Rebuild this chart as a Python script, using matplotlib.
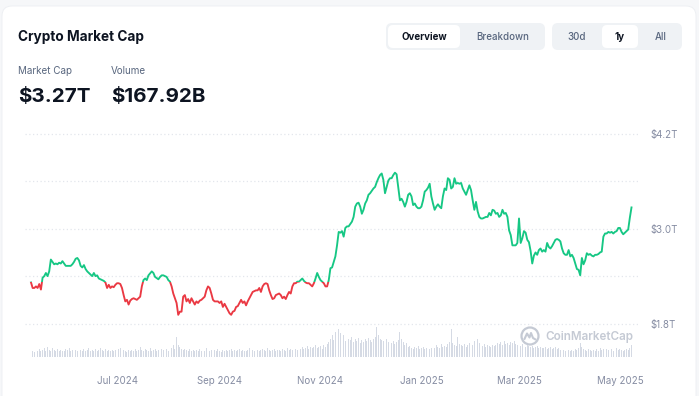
import matplotlib
matplotlib.use("Agg")
import matplotlib.pyplot as plt
import matplotlib.dates as mdates
from matplotlib.patches import FancyBboxPatch, Rectangle, Circle
import numpy as np
import pandas as pd

plt.rcParams['font.family'] = ['Inter', 'DejaVu Sans']

# ---------------- data ----------------
start_date = "2024-05-10"

day_offsets = [
    0, 1, 2, 3, 4, 5, 6, 7, 8, 9, 10, 11, 12, 13, 14, 15, 16, 17, 18, 19,
    20, 21, 22, 23, 24, 25, 26, 27, 28, 29, 30, 31, 32, 33, 34, 35, 36, 37, 38, 39,
    40, 41, 42, 43, 44, 45, 46, 47, 48, 49, 50, 51, 52, 53, 54, 55, 56, 57, 58, 59,
    60, 61, 62, 64, 66, 67, 68, 69, 70, 71, 73, 74, 75, 77, 78, 79, 80, 82, 83, 84,
    85, 86, 88, 89, 90, 91, 92, 93, 94, 95, 96, 97, 98, 99, 100, 101, 102, 103, 104, 105,
    106, 107, 108, 109, 110, 111, 113, 114, 115, 116, 117, 118, 119, 120, 121, 122, 123, 124, 125, 126,
    127, 128, 129, 130, 131, 132, 133, 134, 135, 136, 137, 138, 139, 140, 141, 142, 143, 144, 145, 146,
    147, 148, 149, 150, 151, 152, 153, 154, 155, 156, 157, 158, 159, 160, 161, 162, 163, 164, 165, 166,
    167, 168, 169, 170, 171, 172, 173, 174, 175, 176, 177, 178, 179, 180, 181, 182, 183, 184, 185, 186,
    187, 188, 189, 190, 191, 192, 193, 194, 195, 196, 197, 198, 199, 200, 201, 202, 203, 204, 205, 206,
    207, 208, 209, 210, 211, 212, 213, 214, 215, 216, 217, 218, 219, 220, 221, 222, 223, 224, 225, 226,
    227, 228, 229, 230, 231, 232, 233, 234, 235, 236, 237, 238, 239, 240, 241, 242, 243, 244, 245, 246,
    247, 248, 249, 250, 251, 252, 253, 254, 255, 256, 257, 258, 259, 260, 261, 262, 263, 264, 265, 266,
    267, 268, 269, 270, 271, 272, 273, 274, 275, 276, 277, 278, 279, 280, 281, 282, 283, 284, 285, 286,
    287, 288, 289, 290, 291, 292, 293, 294, 295, 296, 297, 298, 299, 300, 301, 302, 303, 304, 305, 306,
    307, 308, 309, 310, 311, 312, 313, 314, 315, 316, 317, 318, 319, 320, 321, 322, 323, 324, 325, 326,
    327, 328, 329, 330, 331, 332, 333, 334, 335, 336, 337, 338, 339, 340, 341, 342, 343, 344, 345, 346,
    347, 348, 349, 350, 351, 352, 353, 354, 355, 356, 357, 358, 359, 360, 361, 362, 363,
]

market_cap_t = [
    2.32, 2.25, 2.25, 2.27, 2.25, 2.30, 2.23, 2.38, 2.40, 2.44, 2.40, 2.46, 2.61, 2.58, 2.55, 2.56, 2.55, 2.57, 2.56, 2.59,
    2.56, 2.53, 2.53, 2.53, 2.53, 2.55, 2.58, 2.62, 2.63, 2.60, 2.53, 2.51, 2.54, 2.49, 2.46, 2.44, 2.42, 2.40, 2.44, 2.40,
    2.41, 2.37, 2.36, 2.35, 2.34, 2.32, 2.25, 2.29, 2.25, 2.27, 2.26, 2.29, 2.31, 2.31, 2.30, 2.25, 2.16, 2.08, 2.10, 2.04,
    2.09, 2.11, 2.12, 2.10, 2.14, 2.27, 2.35, 2.37, 2.35, 2.41, 2.46, 2.44, 2.39, 2.36, 2.39, 2.41, 2.41, 2.39, 2.35, 2.33,
    2.27, 2.18, 2.06, 1.91, 1.95, 1.95, 2.14, 2.16, 2.08, 2.11, 2.06, 2.12, 2.08, 2.04, 2.08, 2.06, 2.09, 2.10, 2.12, 2.14,
    2.22, 2.27, 2.25, 2.18, 2.10, 2.08, 2.08, 2.06, 2.08, 2.01, 2.05, 2.01, 1.97, 1.93, 1.91, 1.95, 1.96, 2.01, 2.02, 2.06,
    2.10, 2.06, 2.08, 2.03, 2.08, 2.12, 2.16, 2.20, 2.21, 2.22, 2.22, 2.25, 2.20, 2.27, 2.30, 2.31, 2.30, 2.22, 2.16, 2.11,
    2.12, 2.16, 2.17, 2.18, 2.16, 2.12, 2.14, 2.11, 2.16, 2.20, 2.18, 2.27, 2.31, 2.31, 2.33, 2.33, 2.35, 2.37, 2.34, 2.32,
    2.31, 2.31, 2.29, 2.27, 2.31, 2.37, 2.44, 2.39, 2.35, 2.33, 2.31, 2.27, 2.27, 2.35, 2.50, 2.51, 2.58, 2.65, 2.79, 2.96,
    2.95, 2.97, 2.90, 3.01, 3.03, 3.03, 3.06, 3.09, 3.15, 3.28, 3.32, 3.33, 3.28, 3.19, 3.24, 3.32, 3.36, 3.43, 3.45, 3.48,
    3.51, 3.53, 3.59, 3.64, 3.68, 3.70, 3.62, 3.45, 3.53, 3.61, 3.64, 3.64, 3.68, 3.71, 3.69, 3.53, 3.36, 3.38, 3.34, 3.28,
    3.34, 3.43, 3.45, 3.41, 3.30, 3.32, 3.28, 3.26, 3.26, 3.28, 3.36, 3.47, 3.49, 3.52, 3.57, 3.41, 3.32, 3.24, 3.28, 3.31,
    3.28, 3.26, 3.41, 3.51, 3.49, 3.64, 3.62, 3.51, 3.53, 3.64, 3.57, 3.58, 3.57, 3.58, 3.51, 3.47, 3.43, 3.49, 3.55, 3.49,
    3.36, 3.24, 3.34, 3.22, 3.15, 3.13, 3.13, 3.14, 3.15, 3.15, 3.20, 3.17, 3.24, 3.23, 3.19, 3.20, 3.15, 3.17, 3.24, 3.19,
    3.20, 3.15, 2.98, 2.92, 2.79, 2.79, 2.79, 2.82, 3.13, 2.82, 2.88, 2.97, 2.95, 2.86, 2.83, 2.72, 2.56, 2.66, 2.70, 2.67,
    2.73, 2.75, 2.71, 2.73, 2.71, 2.82, 2.77, 2.75, 2.78, 2.82, 2.86, 2.87, 2.86, 2.84, 2.75, 2.69, 2.67, 2.67, 2.73, 2.65,
    2.67, 2.63, 2.56, 2.49, 2.48, 2.41, 2.63, 2.55, 2.60, 2.69, 2.67, 2.68, 2.66, 2.65, 2.67, 2.67, 2.68, 2.70, 2.71, 2.90,
    2.94, 2.94, 2.96, 2.95, 2.96, 2.94, 2.96, 2.97, 3.01, 3.01, 2.96, 2.93, 2.95, 2.97, 2.99, 3.14, 3.27,
]

# daily volume in billions USD (one value per day from start_date)
volume_b = [
    50, 60, 50, 70, 60, 80, 60, 70, 90, 60,
    100, 70, 60, 90, 70, 60, 80, 60, 70, 60,
    60, 80, 70, 90, 60, 70, 100, 70, 60, 80,
    70, 60, 80, 60, 70, 90, 60, 70, 60, 80,
    60, 70, 90, 70, 60, 80, 60, 70, 60, 70,
    60, 70, 60, 80, 90, 60, 70, 60, 50, 70,
    60, 70, 60, 80, 60, 70, 100, 70, 60, 80,
    70, 60, 90, 60, 70, 80, 60, 70, 60, 80,
    70, 60, 80, 60, 70, 90, 120, 80, 200, 120,
    100, 80, 70, 80, 70, 60, 80, 60, 70, 60,
    70, 60, 80, 60, 70, 60, 90, 70, 60, 70,
    60, 70, 60, 80, 60, 50, 70, 60, 70, 60,
    70, 80, 60, 70, 60, 70, 80, 60, 70, 60,
    60, 70, 90, 60, 70, 60, 80, 70, 60, 70,
    80, 70, 60, 90, 70, 60, 70, 80, 60, 70,
    70, 60, 80, 70, 60, 90, 70, 80, 70, 90,
    80, 70, 90, 80, 100, 80, 90, 110, 80, 100,
    90, 100, 120, 90, 100, 110, 80, 120, 100, 130,
    150, 180, 220, 170, 250, 200, 280, 240, 180, 220,
    160, 190, 180, 170, 200, 150, 180, 160, 190, 140,
    170, 150, 180, 160, 190, 170, 150, 180, 200, 300,
    220, 180, 170, 160, 260, 180, 150, 170, 140, 160,
    130, 150, 170, 250, 180, 150, 120, 140, 100, 110,
    90, 80, 100, 90, 110, 80, 90, 100, 80, 90,
    100, 80, 90, 110, 90, 120, 100, 90, 130, 100,
    110, 100, 130, 150, 280, 140, 120, 110, 200, 130,
    120, 110, 130, 100, 120, 140, 110, 120, 160, 290,
    180, 140, 120, 110, 130, 100, 120, 110, 100, 120,
    110, 120, 140, 130, 150, 120, 160, 130, 140, 120,
    150, 140, 160, 130, 120, 140, 110, 130, 120, 100,
    120, 110, 100, 110, 90, 100, 110, 90, 100, 90,
    90, 100, 80, 90, 100, 80, 90, 100, 80, 90,
    70, 60, 70, 60, 80, 70, 60, 70, 60, 80,
    70, 90, 140, 100, 80, 70, 60, 80, 70, 60,
    70, 60, 80, 60, 90, 70, 80, 70, 80, 70,
    70, 80, 60, 70, 90, 70, 80, 70, 60, 70,
    80, 70, 90, 120,
]

y_label_levels = [1.8, 3.0, 4.2]
y_grid_levels = [1.8, 2.4, 3.0, 3.6, 4.2]
x_tick_dates = ["2024-07-01", "2024-09-01", "2024-11-01", "2025-01-01", "2025-03-01", "2025-05-01"]

title = "Crypto Market Cap"
stat_labels = ["Market Cap", "Volume"]
stat_values = ["$3.27T", "$167.92B"]

# ---------------- styling ----------------
GREEN = "#16c784"
RED = "#ea3943"
GRAY_TXT = "#858ca2"
DARK = "#0d1421"
SUB = "#58667e"

W, H = 699, 396
fig = plt.figure(figsize=(W / 100, H / 100), dpi=100)
fig.patch.set_facecolor("#f6f7f9")

# background / header axes in pixel coordinates
bg = fig.add_axes([0, 0, 1, 1], zorder=0)
bg.set_xlim(0, W)
bg.set_ylim(H, 0)
bg.axis("off")
bg.add_patch(FancyBboxPatch((2, 6), W - 5, H + 20, boxstyle="round,pad=0,rounding_size=10",
                            fc="white", ec="#eceef2", lw=0.6))

bg.text(18, 37, title, fontsize=9.8, fontweight="bold", color=DARK, va="center", ha="left")
bg.text(18, 71, stat_labels[0], fontsize=7.1, color=SUB, va="center", ha="left")
bg.text(111, 71, stat_labels[1], fontsize=7.1, color=SUB, va="center", ha="left")
bg.text(18, 97, stat_values[0], fontsize=14.8, fontweight="bold", color=DARK, va="center", ha="left")
bg.text(111, 97, stat_values[1], fontsize=14.8, fontweight="bold", color=DARK, va="center", ha="left")

BTN_BG = "#eff2f5"
bg.add_patch(FancyBboxPatch((386, 23), 159, 27, boxstyle="round,pad=0,rounding_size=6", fc=BTN_BG, ec="none"))
bg.add_patch(FancyBboxPatch((388, 25), 72, 23, boxstyle="round,pad=0,rounding_size=5", fc="white", ec="none"))
bg.add_patch(FancyBboxPatch((552, 23), 130, 27, boxstyle="round,pad=0,rounding_size=6", fc=BTN_BG, ec="none"))
bg.add_patch(FancyBboxPatch((602, 25), 36, 23, boxstyle="round,pad=0,rounding_size=5", fc="white", ec="none"))
bg.text(424, 36.5, "Overview", fontsize=7, fontweight="bold", color=DARK, ha="center", va="center")
bg.text(503, 36.5, "Breakdown", fontsize=7, fontweight="medium", color=SUB, ha="center", va="center")
bg.text(577, 36.5, "30d", fontsize=7, fontweight="medium", color=SUB, ha="center", va="center")
bg.text(620, 36.5, "1y", fontsize=7, fontweight="bold", color=DARK, ha="center", va="center")
bg.text(661, 36.5, "All", fontsize=7, fontweight="medium", color=SUB, ha="center", va="center")

# watermark
WM = "#c5cad4"
bg.add_patch(Circle((530, 336), 8.5, fc="none", ec=WM, lw=1.6))
bg.plot([524.5, 527, 529.5, 531, 533, 535.5], [339, 333.5, 337.5, 333, 338, 339.5],
        color=WM, lw=1.5, solid_capstyle="round", solid_joinstyle="round")
bg.text(545, 337, "CoinMarketCap", fontsize=8.4, fontweight="semibold", color=WM, ha="left", va="center")

# ---------------- main chart ----------------
left_px, right_px, top_px, bottom_px = 25, 638, 125, 357
ax = fig.add_axes([left_px / W, 1 - bottom_px / H, (right_px - left_px) / W, (bottom_px - top_px) / H], zorder=2)
ax.set_facecolor("none")

dates = pd.to_datetime(start_date) + pd.to_timedelta(day_offsets, unit="D")
vol_dates = pd.to_datetime(start_date) + pd.to_timedelta(np.arange(len(volume_b)), unit="D")

# price scale: 79 px per 1T
px_per_t = 79.0
y_top = 4.2 + (134 - top_px) / px_per_t
y_bot = 1.8 - (bottom_px - 323.5) / px_per_t
ax.set_ylim(y_bot, y_top)

x0 = mdates.date2num(dates[0])
x1 = mdates.date2num(dates[-1])
px_per_day = (631.5 - 31.0) / (x1 - x0)
ax.set_xlim(x0 - (31 - left_px) / px_per_day, x1 + (right_px - 631.5) / px_per_day)

for g in y_grid_levels:
    ax.axhline(g, color="#e3e6ec", lw=0.9, ls=(0, (1, 2)), zorder=0)

# volume on twin axis
vax = ax.twinx()
vax.set_ylim(0, 10.0 * (bottom_px - top_px))
vax.bar(vol_dates, volume_b, width=0.55, color="#d5dae4", zorder=1)
vax.set_yticks([])
for s in vax.spines.values():
    s.set_visible(False)
vax.set_zorder(1)
ax.set_zorder(2)

baseline = market_cap_t[0]
xl = ax.get_xlim()
g_line, = ax.plot(dates, market_cap_t, color=GREEN, lw=1.35, solid_joinstyle="round", zorder=3)
r_line, = ax.plot(dates, market_cap_t, color=RED, lw=1.35, solid_joinstyle="round", zorder=3)
clip_up = Rectangle((xl[0], baseline), xl[1] - xl[0], 10, transform=ax.transData)
clip_dn = Rectangle((xl[0], baseline - 10), xl[1] - xl[0], 10, transform=ax.transData)
g_line.set_clip_path(clip_up)
r_line.set_clip_path(clip_dn)

ax.yaxis.tick_right()
ax.set_yticks(y_label_levels)
ax.set_yticklabels([f"${v:.1f}T" for v in y_label_levels])
ax.set_xticks(pd.to_datetime(x_tick_dates))
ax.xaxis.set_major_formatter(mdates.DateFormatter("%b %Y"))
ax.tick_params(axis="both", length=0, labelsize=7, labelcolor=GRAY_TXT)
ax.tick_params(axis="x", pad=14)
ax.tick_params(axis="y", pad=9)
for s in ax.spines.values():
    s.set_visible(False)

fig.savefig("out.png", dpi=100, facecolor=fig.get_facecolor())
